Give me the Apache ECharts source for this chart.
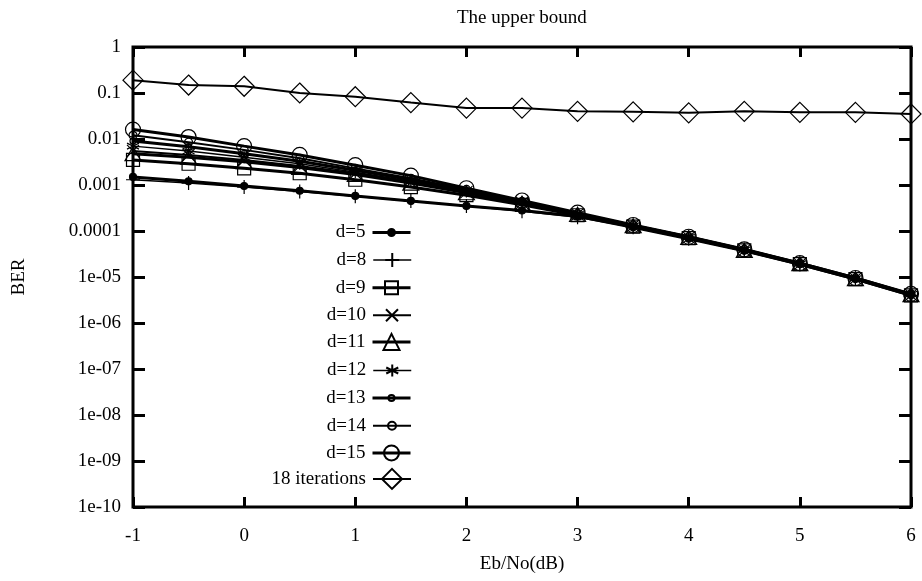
<!DOCTYPE html>
<html><head><meta charset="utf-8">
<script src="https://cdn.jsdelivr.net/npm/echarts@6/dist/echarts.min.js"></script>
<style>html,body{margin:0;padding:0;background:#fff}#c{width:922px;height:581px}</style>
</head><body><div id="c"></div>
<script>
const xValues = [-1,-0.5,0,0.5,1,1.5,2,2.5,3,3.5,4,4.5,5,5.5,6];
const seriesNames = ['d=5','d=8','d=9','d=10','d=11','d=12','d=13','d=14','d=15','18 iterations'];
const d5  = [1.5e-3,1.2e-3,9.5e-4,7.5e-4,5.8e-4,4.5e-4,3.5e-4,2.8e-4,2.1e-4,1.2e-4,6.8e-5,3.7e-5,1.9e-5,9e-6,4e-6];
const d8  = [1.3e-3,1.1e-3,9e-4,7.2e-4,5.7e-4,4.5e-4,3.5e-4,2.7e-4,2e-4,1.2e-4,6.8e-5,3.7e-5,1.9e-5,9e-6,4e-6];
const d9  = [3.5e-3,2.9e-3,2.3e-3,1.8e-3,1.3e-3,9e-4,6e-4,3.7e-4,2.2e-4,1.25e-4,7e-5,3.8e-5,1.9e-5,9e-6,4e-6];
const d10 = [5.5e-3,4.5e-3,3.5e-3,2.6e-3,1.8e-3,1.15e-3,7e-4,4.1e-4,2.3e-4,1.3e-4,7.2e-5,3.8e-5,1.9e-5,9.2e-6,4.1e-6];
const d11 = [4.8e-3,4e-3,3.2e-3,2.4e-3,1.7e-3,1.1e-3,6.8e-4,4e-4,2.3e-4,1.3e-4,7.2e-5,3.8e-5,1.95e-5,9.2e-6,4.1e-6];
const d12 = [7e-3,5.5e-3,4e-3,2.9e-3,1.9e-3,1.2e-3,7.2e-4,4.2e-4,2.3e-4,1.3e-4,7.3e-5,3.9e-5,1.95e-5,9.3e-6,4.2e-6];
const d13 = [9e-3,6.8e-3,4.8e-3,3.3e-3,2.1e-3,1.3e-3,7.5e-4,4.3e-4,2.4e-4,1.3e-4,7.4e-5,3.9e-5,2e-5,9.5e-6,4.2e-6];
const d14 = [1.2e-2,8.5e-3,5.8e-3,3.8e-3,2.3e-3,1.4e-3,8e-4,4.4e-4,2.4e-4,1.35e-4,7.5e-5,4e-5,2e-5,9.5e-6,4.3e-6];
const d15 = [1.6e-2,1.1e-2,7e-3,4.5e-3,2.7e-3,1.6e-3,8.5e-4,4.6e-4,2.5e-4,1.35e-4,7.5e-5,4e-5,2e-5,9.5e-6,4.3e-6];
const it18 = [0.19,0.149,0.14,0.1,0.083,0.062,0.047,0.047,0.04,0.039,0.037,0.04,0.038,0.038,0.035];
const xTickLabels = ['-1','0','1','2','3','4','5','6'];
const yTickLabels = ['1e-10','1e-09','1e-08','1e-07','1e-06','1e-05','0.0001','0.001','0.01','0.1','1'];

const allData = [d5,d8,d9,d10,d11,d12,d13,d14,d15,it18];
const FONT = 'Liberation Serif';
const symbols = [
  {symbol:'circle', size:7, fill:'#000', lw:3},
  {symbol:'path://M0,5L10,5M5,0L5,10', size:14, fill:'none', lw:1.5},
  {symbol:'rect', size:13, fill:'none', lw:3},
  {symbol:'path://M0,0L10,10M0,10L10,0', size:12, fill:'none', lw:2},
  {symbol:'triangle', size:[16,14], fill:'none', lw:3},
  {symbol:'path://M5,0L5,10M0.7,2.5L9.3,7.5M0.7,7.5L9.3,2.5', size:[12,12], fill:'none', lw:1.5},
  {symbol:'circle', size:6, fill:'none', lw:3},
  {symbol:'circle', size:8, fill:'none', lw:2},
  {symbol:'circle', size:15, fill:'none', lw:3},
  {symbol:'diamond', size:[20,20], fill:'none', lw:2}
];
const series = seriesNames.map((n,i)=>({
  name:n, type:'line', xAxisIndex:0, yAxisIndex:0,
  data: xValues.map((x,j)=>[x, allData[i][j]]),
  symbol: symbols[i].symbol, symbolSize: symbols[i].size, showAllSymbol:true,
  lineStyle:{color:'#000', width:symbols[i].lw},
  itemStyle:{color: symbols[i].fill==='none' ? 'rgba(0,0,0,0)' : '#000', borderColor:'#000', borderWidth:1.2},
  emphasis:{disabled:true}, animation:false, z: 2+i
}));
const legendTop0 = 232, legendGap = 27.6, textH = 18;
const legends = seriesNames.map((n,i)=>{
  const s = symbols[i].size;
  const sz = Array.isArray(s) ? Math.max(s[0], s[1]) : s;
  const ih = sz/0.8;
  return {
    data:[n], orient:'vertical', right:510, top: legendTop0 + legendGap*i - Math.max(ih, textH)/2,
    align:'right', itemWidth:38, itemHeight:ih, itemGap:0, padding:0,
    lineStyle:{width: symbols[i].lw, color:'#000'},
    textStyle:{fontFamily:FONT, fontSize:19, color:'#000', padding:[0,2,0,0]},
    selectedMode:false
  };
});
const chart = echarts.init(document.getElementById('c'), null, {renderer:'canvas'});
chart.setOption({
  backgroundColor:'#fff',
  animation:false,
  title:{text:'The upper bound', left:452, top:4, textStyle:{fontFamily:FONT, fontSize:19, fontWeight:'normal', color:'#000'}},
  grid:{left:133, right:11, top:47, bottom:74, show:true, borderColor:'#000', borderWidth:3, backgroundColor:'transparent'},
  legend: legends,
  xAxis:[{
    type:'value', min:-1, max:6, interval:1, position:'bottom',
    name:'Eb/No(dB)', nameLocation:'middle', nameGap:48,
    nameTextStyle:{fontFamily:FONT, fontSize:19, color:'#000'},
    axisLine:{show:false, onZero:false}, splitLine:{show:false},
    axisTick:{inside:true, length:10, lineStyle:{color:'#000', width:3}},
    axisLabel:{margin:20, fontFamily:FONT, fontSize:19, color:'#000', formatter:(v)=>xTickLabels[Math.round(v)+1]}
  },{
    type:'value', position:'top', min:-1, max:6, interval:1,
    axisLine:{show:false, onZero:false}, splitLine:{show:false}, axisLabel:{show:false},
    axisTick:{inside:true, length:10, lineStyle:{color:'#000', width:3}}
  }],
  yAxis:[{
    type:'log', logBase:10, min:1e-10, max:1, interval:1, position:'left',
    name:'BER', nameLocation:'middle', nameGap:104, nameRotate:90,
    nameTextStyle:{fontFamily:FONT, fontSize:19, color:'#000'},
    axisLine:{show:false, onZero:false}, splitLine:{show:false}, minorTick:{show:false},
    axisTick:{inside:true, length:12, lineStyle:{color:'#000', width:3}},
    axisLabel:{margin:12, fontFamily:FONT, fontSize:19, color:'#000',
      formatter:(v)=>yTickLabels[Math.round(Math.log10(v))+10]}
  },{
    type:'log', logBase:10, min:1e-10, max:1, interval:1, position:'right',
    axisLine:{show:false, onZero:false}, splitLine:{show:false}, axisLabel:{show:false},
    axisTick:{inside:true, length:12, lineStyle:{color:'#000', width:3}}
  }],
  series: series
});
</script></body></html>
